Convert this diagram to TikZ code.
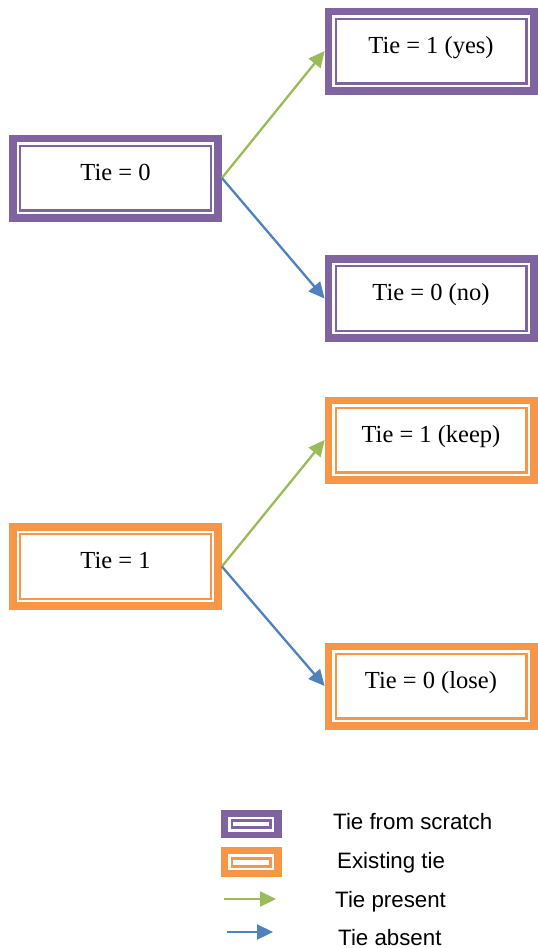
\documentclass[tikz,border=0pt]{standalone}
\usepackage{fontspec}
\setmainfont{Liberation Serif}
\newfontfamily\legendfont{Liberation Sans}
\usetikzlibrary{arrows.meta}
\definecolor{tpurple}{HTML}{8064A2}
\definecolor{torange}{HTML}{F79646}
\definecolor{tgreen}{HTML}{9BBB59}
\definecolor{tblue}{HTML}{4F81BD}
\tikzset{
  tiebox/.style={draw=#1, line width=2.2pt, fill=white,
    preaction={draw=#1, line width=7.7pt, double=white, double distance=6.8pt},
    minimum width=190.8pt, minimum height=64.8pt, inner sep=0pt, outer sep=11pt,
    font=\fontsize{24.5}{28}\selectfont, text height=11pt, text depth=7pt},
  conn/.style={line width=2.3pt, -{Triangle[length=16pt,width=15pt]}},
  legtext/.style={anchor=base west, inner sep=0pt, font=\legendfont\fontsize{22.3}{26}\selectfont},
}
\begin{document}
\begin{tikzpicture}[x=1pt,y=-1pt]
\useasboundingbox (0,0) rectangle (538,948);
\node[tiebox=tpurple] (a) at (115.5,178) {Tie = 0};
\node[tiebox=tpurple] (b) at (431,51) {Tie = 1 (yes)};
\node[tiebox=tpurple] (c) at (431,298.5) {Tie = 0 (no)};
\node[tiebox=torange] (d) at (115.5,566.5) {Tie = 1};
\node[tiebox=torange] (e) at (431,440) {Tie = 1 (keep)};
\node[tiebox=torange] (f) at (431,686) {Tie = 0 (lose)};
\draw[conn, tgreen] (a.east) -- (b.west);
\draw[conn, tblue] (a.east) -- (c.west);
\draw[conn, tgreen] (d.east) -- (e.west);
\draw[conn, tblue] (d.east) -- (f.west);
% legend
\fill[tpurple] (221,810) rectangle (282,838);
\fill[white] (228.3,816.7) rectangle (274.3,831.7);
\fill[tpurple] (230.7,819.3) rectangle (271.9,828.7);
\fill[white] (233.3,822) rectangle (269.3,826);
\fill[torange] (221,846.7) rectangle (282,876.7);
\fill[white] (228.3,854.3) rectangle (274.3,870);
\fill[torange] (230.7,856.7) rectangle (271.9,867.7);
\fill[white] (233.3,859.5) rectangle (269.3,865);
\coordinate (g1) at (224,899);
\coordinate (g2) at (276,899);
\coordinate (b1) at (227,932);
\coordinate (b2) at (273,932);
\draw[conn, tgreen] (g1) -- (g2);
\draw[conn, tblue] (b1) -- (b2);
\node[legtext] (l1) at (333,829) {Tie from scratch};
\node[legtext] (l2) at (337,868) {Existing tie};
\node[legtext] (l3) at (335,907) {Tie present};
\node[legtext] (l4) at (338,945) {Tie absent};
\end{tikzpicture}
\end{document}
